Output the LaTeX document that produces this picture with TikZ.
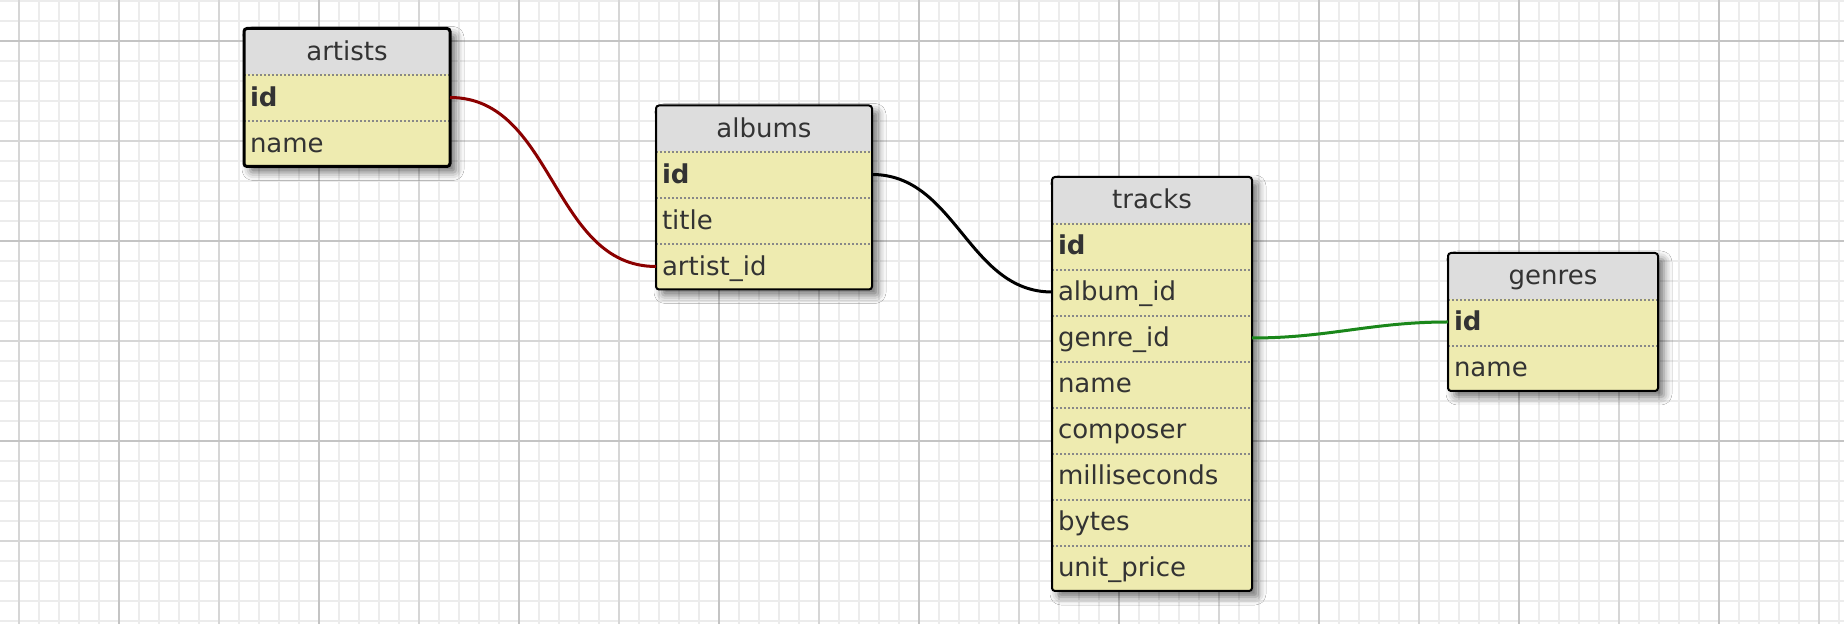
\documentclass[tikz,border=0pt]{standalone}
\usepackage{fontspec}
\setmainfont{DejaVu Sans}
\usepackage{tikz}
\usetikzlibrary{positioning,backgrounds,shadows.blur}

\definecolor{headgray}{HTML}{DDDDDD}
\definecolor{rowyellow}{HTML}{EEEBB0}
\definecolor{textgray}{HTML}{333333}
\definecolor{sepgray}{HTML}{888888}
\definecolor{gridminor}{HTML}{ECECEC}
\definecolor{gridmid}{HTML}{D6D6D6}
\definecolor{gridmajor}{HTML}{C4C4C4}
\definecolor{relred}{HTML}{8B0000}
\definecolor{relgreen}{HTML}{1A871A}

\tikzset{
  cell/.style={minimum height=23pt, inner ysep=0pt, inner xsep=3pt, outer sep=0pt, text height=10.85pt, text depth=2.15pt, text=textgray, font=\fontsize{13pt}{15pt}\selectfont},
  tabhead/.style={cell, fill=headgray, align=center, anchor=north west},
  tabrow/.style={cell, fill=rowyellow, align=left, below=0pt of #1, path picture={\draw[sepline] ([yshift=-0.5pt]path picture bounding box.north west) -- ([yshift=-0.5pt]path picture bounding box.north east);}},
  sepline/.style={draw=sepgray, line width=1pt, dash pattern=on 1pt off 1pt},
  tabframe/.style={draw=black, line width=1pt, rounded corners=1.5pt},
  tabshadow/.style={fill=white, rounded corners=1.5pt, blur shadow={shadow xshift=3pt, shadow yshift=-3pt, shadow blur radius=4pt, shadow opacity=55}},
  rel/.style={line width=1.5pt, out=0, in=180},
}

\begin{document}
\begin{tikzpicture}[x=0.5pt, y=-0.5pt]

\useasboundingbox (0,0) rectangle (1844,624);

\begin{scope}[on background layer]
\fill[white] (0,0) rectangle (1844,624);
\foreach \gx in {19,39,...,1839} \draw[gridminor, line width=1pt] (\gx,0) -- (\gx,624);
\foreach \gy in {1,21,...,621} \draw[gridminor, line width=1pt] (0,\gy) -- (1844,\gy);
\foreach \gx in {19,219,...,1819} \draw[gridmid, line width=1pt] (\gx,0) -- (\gx,624);
\foreach \gy in {141,341,541} \draw[gridmid, line width=1pt] (0,\gy) -- (1844,\gy);
\foreach \gx in {119,319,...,1719} \draw[gridmajor, line width=1pt] (\gx,0) -- (\gx,624);
\foreach \gy in {41,241,441} \draw[gridmajor, line width=1pt] (0,\gy) -- (1844,\gy);
\end{scope}

\node[tabhead, text width=97pt] (artists) at (244,28.5) {artists};
\node[tabrow=artists, text width=97pt] (artists-id) {\bfseries id};
\node[tabrow=artists-id, text width=97pt] (artists-name) {name};

\node[tabhead, text width=102pt] (albums) at (656,105.5) {albums};
\node[tabrow=albums, text width=102pt] (albums-id) {\bfseries id};
\node[tabrow=albums-id, text width=102pt] (albums-title) {title};
\node[tabrow=albums-title, text width=102pt] (albums-artistid) {artist\_id};

\node[tabhead, text width=94pt] (tracks) at (1052,177) {tracks};
\node[tabrow=tracks, text width=94pt] (tracks-id) {\bfseries id};
\node[tabrow=tracks-id, text width=94pt] (tracks-albumid) {album\_id};
\node[tabrow=tracks-albumid, text width=94pt] (tracks-genreid) {genre\_id};
\node[tabrow=tracks-genreid, text width=94pt] (tracks-name) {name};
\node[tabrow=tracks-name, text width=94pt] (tracks-composer) {composer};
\node[tabrow=tracks-composer, text width=94pt] (tracks-ms) {milliseconds};
\node[tabrow=tracks-ms, text width=94pt] (tracks-bytes) {bytes};
\node[tabrow=tracks-bytes, text width=94pt] (tracks-price) {unit\_price};

\node[tabhead, text width=99pt] (genres) at (1448,253) {genres};
\node[tabrow=genres, text width=99pt] (genres-id) {\bfseries id};
\node[tabrow=genres-id, text width=99pt] (genres-name) {name};

\begin{scope}[on background layer]
\fill[tabshadow] (artists.north west) rectangle (artists-name.south east);
\fill[tabshadow] (albums.north west) rectangle (albums-artistid.south east);
\fill[tabshadow] (tracks.north west) rectangle (tracks-price.south east);
\fill[tabshadow] (genres.north west) rectangle (genres-name.south east);
\end{scope}

\draw[tabframe, line width=1.5pt] (artists.north west) rectangle (artists-name.south east);
\draw[tabframe] (albums.north west) rectangle (albums-artistid.south east);
\draw[tabframe] (tracks.north west) rectangle (tracks-price.south east);
\draw[tabframe] (genres.north west) rectangle (genres-name.south east);

\draw[rel, relred] (artists-id.east) to (albums-artistid.west);
\draw[rel, black] (albums-id.east) to (tracks-albumid.west);
\draw[rel, relgreen] (tracks-genreid.east) to (genres-id.west);

\end{tikzpicture}
\end{document}
